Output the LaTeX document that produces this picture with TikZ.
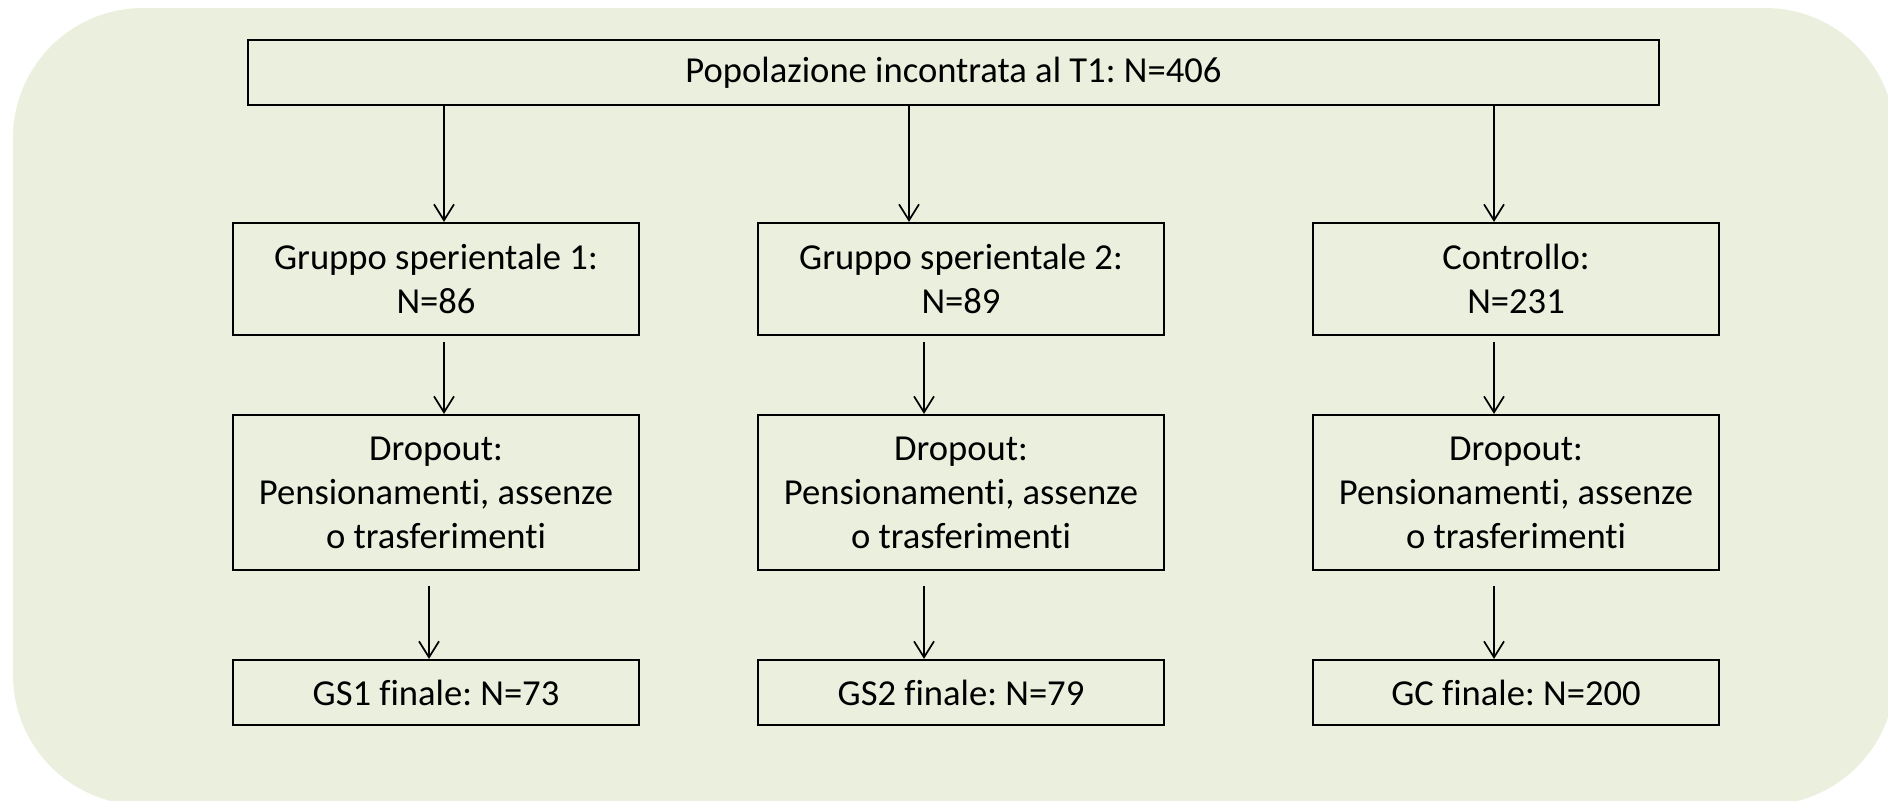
\documentclass[tikz,border=0pt]{standalone}
\usepackage{fontspec}
\setmainfont{Carlito}[Ligatures={NoCommon}]
\usetikzlibrary{arrows.meta}
\definecolor{bgc}{RGB}{235,239,222}
\frenchspacing
\begin{document}
\begin{tikzpicture}[x=0.5pt,y=-0.5pt,
  box/.style={draw=black, line width=1.1pt, minimum width=203pt, align=center, inner sep=0pt, font=\fontsize{18.3}{22}\selectfont},
  row1/.style={box, minimum height=56pt},
  row2/.style={box, minimum height=77.5pt},
  row3/.style={box, minimum height=32.5pt},
  arr/.style={line width=0.85pt, -{Straight Barb[length=8pt,width=10pt,line width=0.85pt]}}]
\useasboundingbox (0,0) rectangle (1888,800);
\fill[bgc, rounded corners=65pt] (13,8) rectangle (1895,805);
\node[box, minimum width=705.5pt, minimum height=32.5pt] (top) at (953.5,72.5) {Popolazione incontrata al T1: N=406};
% row 1
\node[row1] (g1) at (436,279) {Gruppo sperientale 1:\\N=86};
\node[row1] (g2) at (961,279) {Gruppo sperientale 2:\\N=89};
\node[row1] (g3) at (1516,279) {Controllo:\\N=231};
% row 2
\node[row2] (d1) at (436,492.5) {Dropout:\\Pensionamenti, assenze\\o trasferimenti};
\node[row2] (d2) at (961,492.5) {Dropout:\\Pensionamenti, assenze\\o trasferimenti};
\node[row2] (d3) at (1516,492.5) {Dropout:\\Pensionamenti, assenze\\o trasferimenti};
% row 3
\node[row3] (f1) at (436,692.5) {GS1 finale: N=73};
\node[row3] (f2) at (961,692.5) {GS2 finale: N=79};
\node[row3] (f3) at (1516,692.5) {GC finale: N=200};
% arrows top -> row1
\draw[arr] ([xshift=4pt]g1.north |- top.south) -- ([xshift=4pt]g1.north);
\draw[arr] ([xshift=-26pt]g2.north |- top.south) -- ([xshift=-26pt]g2.north);
\draw[arr] ([xshift=-11pt]g3.north |- top.south) -- ([xshift=-11pt]g3.north);
% row1 -> row2
\draw[arr] ([shift={(4pt,-3pt)}]g1.south) -- ([xshift=4pt]d1.north);
\draw[arr] ([shift={(-18.5pt,-3pt)}]g2.south) -- ([xshift=-18.5pt]d2.north);
\draw[arr] ([shift={(-11pt,-3pt)}]g3.south) -- ([xshift=-11pt]d3.north);
% row2 -> row3
\draw[arr] ([shift={(-3.5pt,-7.5pt)}]d1.south) -- ([xshift=-3.5pt]f1.north);
\draw[arr] ([shift={(-18.5pt,-7.5pt)}]d2.south) -- ([xshift=-18.5pt]f2.north);
\draw[arr] ([shift={(-11pt,-7.5pt)}]d3.south) -- ([xshift=-11pt]f3.north);
\end{tikzpicture}
\end{document}
